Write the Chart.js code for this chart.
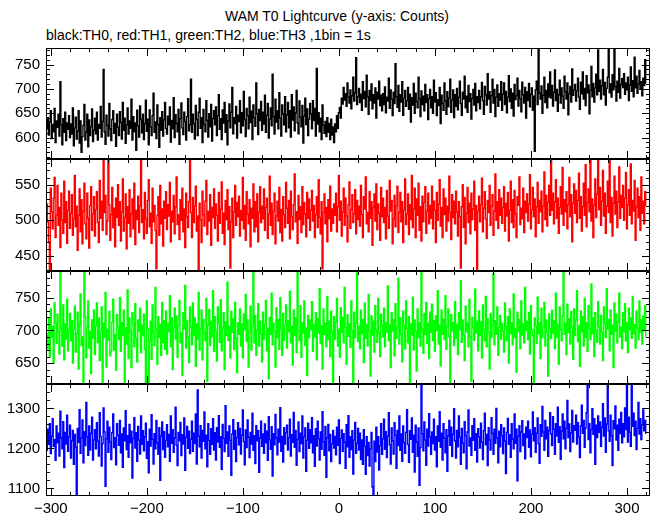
<!DOCTYPE html>
<html>
<head>
<meta charset="utf-8">
<script src="https://cdn.jsdelivr.net/npm/chart.js@4.4.1/dist/chart.umd.min.js"></script>
<style>
  body { margin: 0; background: #fff; width: 652px; height: 515px; position: relative; overflow: hidden;
         font-family: "Liberation Sans", Arial, Helvetica, sans-serif; color: #000; }
  canvas { position: absolute; left: 0; top: 0; }
  #title { position: absolute; left: 0; width: 674px; top: 8px; text-align: center; font-size: 14px; }
  #sub { position: absolute; left: 46px; top: 27px; font-size: 14px; }
</style>
</head>
<body>
<div id="title">WAM T0 Lightcurve (y-axis: Counts)</div>
<div id="sub">black:TH0, red:TH1, green:TH2, blue:TH3 ,1bin = 1s</div>
<canvas id="c0" width="652" height="515"></canvas>
<canvas id="c1" width="652" height="515"></canvas>
<canvas id="c2" width="652" height="515"></canvas>
<canvas id="c3" width="652" height="515"></canvas>
<script>
// time bins: first bin centre and bin width (seconds)
const binStart = -304;
const binWidth = 1;

// x axis tick labels (bottom panel only)
const xTicks = [-300, -200, -100, 0, 100, 200, 300];

// y axis tick labels, one list per panel
const yTicks0 = [600, 650, 700, 750];
const yTicks1 = [450, 500, 550];
const yTicks2 = [650, 700, 750];
const yTicks3 = [1100, 1200, 1300];

// TH0 counts per 1 s bin (black)
const th0 = [
  618,641,605,632,655,598,627,612,660,590,634,621,648,603,715,626,585,639,611,652,594,630,617,645,600,
  628,607,661,583,620,642,597,613,655,589,634,570,602,625,668,595,611,648,581,636,604,622,659,592,615,
  640,608,652,595,627,619,664,601,633,740,612,586,646,625,603,670,618,594,637,655,609,629,582,648,621,
  604,653,631,597,672,615,640,588,626,661,607,634,619,679,595,643,612,630,574,656,624,601,665,637,610,
  648,596,629,677,613,638,585,657,622,604,645,691,611,632,598,667,627,580,641,615,653,603,636,672,619,
  607,644,626,663,591,635,618,682,600,647,629,612,658,586,639,671,620,606,652,633,595,643,680,614,627,
  720,611,648,629,597,666,637,604,652,681,619,641,590,658,627,612,676,635,601,649,622,668,593,639,655,
  626,663,604,645,688,617,639,596,657,630,672,611,647,585,634,669,620,652,703,608,641,629,664,599,646,
  633,676,610,651,624,695,637,602,660,645,618,683,631,654,596,667,641,623,712,649,606,658,635,674,615,
  652,628,687,611,646,670,599,638,661,624,730,643,607,679,632,655,618,692,640,603,667,649,626,684,612,
  647,672,620,655,601,688,636,663,614,651,697,630,608,675,642,622,666,589,644,681,627,659,604,638,670,
  649,618,676,635,660,603,742,628,651,612,640,596,667,625,609,633,602,641,611,629,596,638,605,622,590,
  628,612,645,619,651,662,640,681,669,703,677,690,664,712,683,671,698,659,686,724,675,692,764,668,684,
  701,672,689,656,715,680,695,663,728,684,648,697,676,710,659,688,671,702,640,693,679,716,666,687,655,
  690,668,704,651,683,675,722,660,698,679,645,693,670,752,684,662,707,654,688,673,715,646,681,697,664,
  676,703,658,689,632,682,667,711,650,691,674,661,724,679,643,696,668,685,655,709,672,688,637,680,699,
  661,684,650,718,673,692,645,678,666,703,629,687,670,656,712,675,648,694,663,681,720,652,677,698,641,
  688,664,701,657,683,716,670,646,693,679,726,661,685,652,707,674,690,638,680,699,667,711,655,684,672,
  697,659,684,713,676,648,705,688,667,731,679,694,652,686,720,671,699,643,683,708,664,690,677,715,656,
  689,712,668,695,651,683,727,674,700,660,691,644,709,678,686,722,665,697,680,653,714,688,671,703,640,
  694,676,711,663,689,702,656,685,572,698,716,668,784,691,679,706,650,687,724,672,697,661,710,683,735,
  681,707,665,693,739,676,699,654,688,718,671,702,685,660,726,694,679,712,647,690,705,673,741,687,698,
  709,675,696,722,683,658,714,690,735,679,701,666,727,692,708,649,697,746,684,711,673,702,730,688,780,
  695,718,679,706,740,688,713,667,701,724,784,692,710,683,729,698,784,705,675,716,693,742,681,709,721,
  703,731,689,712,698,724,676,708,745,695,717,684,765,702,726,691,710,738,699,715,686,722,707,760,712
];

// TH1 counts per 1 s bin (red)
const th1 = [
  523,498,470,431,545,512,488,531,560,476,507,549,493,518,462,538,501,482,555,497,526,468,514,541,489,
  510,536,479,502,563,491,520,458,507,544,484,529,467,513,552,495,474,538,503,461,521,547,486,509,533,
  478,515,540,497,469,556,503,527,486,592,511,535,480,499,589,522,472,508,546,490,517,463,531,504,550,
  493,526,471,512,558,485,504,537,460,519,496,543,477,509,530,488,552,466,514,501,534,483,520,590,497,
  515,474,539,502,482,528,557,491,510,468,545,498,521,486,432,507,533,479,549,495,516,464,527,503,540,
  487,522,506,553,470,513,498,535,481,519,561,494,508,473,529,500,545,484,516,462,538,505,490,526,591,
  511,476,532,497,520,548,485,506,430,524,501,469,541,508,492,527,556,480,513,499,536,465,518,504,544,
  489,523,507,471,539,496,516,554,482,510,466,528,501,543,487,519,433,498,531,476,512,549,493,525,505,
  534,478,514,500,560,488,521,472,540,509,495,529,463,517,503,551,484,526,491,537,470,511,547,497,520,
  502,544,486,518,531,475,509,562,493,524,480,513,538,467,506,527,499,546,483,515,471,533,508,490,553,
  517,496,528,474,541,505,487,522,565,498,512,468,535,501,519,483,547,494,525,509,477,539,503,530,486,
  514,542,499,521,476,508,533,490,557,504,481,526,432,511,537,495,518,470,529,502,548,485,516,496,523,
  507,538,484,519,563,500,527,478,512,545,493,531,506,470,522,554,489,515,536,497,509,543,481,528,501,
  520,492,549,508,476,533,516,561,495,511,484,540,503,526,465,518,537,499,551,487,523,510,472,546,505,
  531,497,518,474,542,506,489,556,513,528,467,502,535,491,520,548,483,511,539,498,526,469,515,558,494,
  509,537,480,522,501,563,490,516,545,476,530,507,552,486,519,471,534,498,525,547,482,513,538,495,521,
  503,548,488,527,514,469,539,500,523,557,492,518,476,544,508,531,485,520,499,562,511,473,536,504,527,
  495,541,512,478,526,505,433,519,550,490,532,467,510,546,497,524,481,538,501,516,555,486,521,431,513,
  534,498,522,559,484,517,540,502,475,528,511,549,493,520,536,479,513,565,500,526,489,543,507,531,496,
  518,547,485,524,506,539,471,514,555,497,529,490,542,509,476,533,521,561,494,517,502,545,483,527,511,
  537,499,523,564,488,515,546,505,530,477,519,553,496,528,512,541,484,520,568,501,535,492,525,549,507,
  589,514,538,495,526,557,503,531,482,518,547,509,574,493,529,512,540,488,522,560,505,536,470,524,551,
  510,542,497,528,566,503,533,485,519,552,507,578,491,525,544,512,589,499,530,476,521,558,504,537,588,
  515,546,493,527,570,506,538,482,520,555,511,587,497,532,478,524,562,509,541,490,526,575,503,535,518,
  549,500,531,567,488,522,543,507,579,495,528,513,556,472,519,545,504,533,486,561,510,527,495,540,521
];

// TH2 counts per 1 s bin (green)
const th2 = [
  695,672,718,660,733,689,706,651,742,712,680,725,698,664,793,703,676,739,655,710,687,748,669,701,726,
  684,715,650,702,737,667,695,728,641,709,756,677,690,616,795,721,658,704,745,673,699,634,716,688,731,
  663,707,742,681,719,654,697,736,617,711,690,758,644,702,685,729,661,668,713,748,670,694,639,724,705,
  686,750,668,712,693,731,617,704,679,762,657,719,698,643,727,710,675,741,688,652,716,699,734,666,708,
  692,725,671,617,745,703,618,684,714,656,739,697,677,766,701,648,721,689,709,662,743,682,715,671,730,
  664,711,698,753,675,719,640,704,734,687,722,659,708,746,681,696,631,727,702,769,673,715,690,651,736,
  705,678,742,693,719,645,710,687,758,670,703,731,655,717,696,684,749,622,708,732,677,714,690,761,668,
  721,699,653,736,711,682,747,669,704,727,640,713,692,774,685,706,658,729,697,718,671,743,688,635,712,
  694,733,676,710,658,725,701,755,683,716,644,698,737,670,707,789,681,723,662,700,741,676,714,695,652,
  728,687,709,746,669,703,626,720,694,757,678,711,699,644,735,689,717,671,750,702,662,726,685,708,739,
  673,715,698,760,681,706,647,731,692,719,666,794,700,684,738,659,712,696,745,677,704,631,723,689,716,
  701,744,668,709,690,727,655,718,696,764,680,707,641,733,694,711,675,752,686,714,660,729,698,617,721,
  687,713,749,676,702,659,735,697,720,681,766,705,648,724,691,710,674,745,700,618,728,689,711,793,683,
  706,672,731,695,717,651,742,688,709,676,755,699,630,722,693,714,667,738,701,682,749,696,660,725,708,
  690,734,675,712,697,768,684,708,643,727,699,716,661,741,688,705,780,679,719,694,652,730,707,672,745,
  703,681,721,617,710,693,751,670,716,699,638,733,689,712,676,795,702,665,726,694,743,680,711,657,728,
  697,740,684,715,668,722,700,761,679,708,646,731,694,717,686,753,671,706,733,690,619,724,699,712,677,
  744,688,709,663,727,701,776,682,716,693,654,737,698,711,675,748,690,622,720,704,685,763,696,714,669,
  730,692,713,658,739,701,684,752,675,718,697,641,726,690,708,787,678,715,694,736,662,705,723,687,711,
  699,667,742,706,684,721,650,733,695,712,678,756,689,703,636,728,698,717,672,745,693,710,681,766,700,
  714,686,727,664,738,701,692,618,719,707,680,751,695,712,657,734,689,705,743,676,716,698,630,725,703,
  688,731,696,715,672,757,690,709,648,736,701,684,722,795,694,711,663,740,697,718,679,729,705,656,733,
  692,716,761,683,707,645,730,698,721,676,749,690,712,668,738,703,686,771,695,719,660,727,700,682,744,
  706,679,723,697,654,736,711,689,764,702,717,669,731,694,708,643,742,699,725,681,713,757,690,705,672,
  727,698,741,684,712,666,734,701,719,688,752,695,709,673,730,704,686,745,697,716,679,722,700,738,691
];

// TH3 counts per 1 s bin (blue)
const th3 = [
  1195,1248,1210,1262,1187,1231,1274,1205,1222,1170,1256,1214,1238,1181,1293,1226,1199,1267,1152,1240,1211,1283,1193,1229,1258,
  1176,1219,1245,1160,1235,1203,1083,1250,1215,1297,1188,1226,1271,1164,1242,1207,1315,1229,1183,1256,1196,1238,1278,1171,1221,
  1247,1199,1264,1218,1181,1289,1230,1156,1212,1301,1241,1105,1224,1268,1190,1253,1216,1172,1239,1286,1202,1227,1159,1262,1233,
  1208,1270,1189,1236,1153,1251,1219,1294,1197,1232,1178,1260,1214,1243,1126,1225,1277,1201,1239,1168,1255,1221,1186,1281,1210,
  1244,1194,1229,1263,1175,1217,1139,1248,1206,1284,1223,1161,1237,1199,1270,1214,1185,1252,1120,1231,1266,1197,1242,1178,1220,
  1259,1204,1235,1168,1281,1213,1247,1190,1226,1303,1208,1157,1240,1219,1265,1182,1234,1211,1276,1145,1228,1255,1200,1243,1187,
  1223,1268,1193,1238,1212,1286,1161,1346,1231,1204,1257,1176,1245,1218,1291,1199,1233,1154,1262,1220,1185,1249,1210,1274,1196,
  1239,1171,1252,1216,1282,1203,1229,1148,1260,1225,1192,1307,1213,1241,1180,1256,1220,1133,1236,1272,1198,1245,1167,1227,1264,
  1209,1250,1186,1233,1296,1217,1159,1246,1202,1271,1228,1177,1240,1211,1288,1195,1232,1162,1257,1219,1244,1140,1226,1268,1205,
  1236,1188,1261,1214,1243,1170,1279,1222,1198,1254,1131,1237,1209,1285,1226,1184,1248,1216,1302,1193,1230,1166,1252,1211,1239,
  1258,1196,1227,1273,1181,1234,1215,1290,1203,1245,1158,1223,1266,1192,1238,1212,1281,1176,1229,1251,1143,1220,1263,1200,1247,
  1214,1277,1189,1232,1155,1249,1206,1268,1224,1171,1241,1198,1292,1217,1183,1255,1128,1226,1260,1194,1235,1167,1212,1245,1201,
  1230,1184,1253,1208,1271,1162,1225,1246,1193,1237,1216,1150,1259,1204,1282,1178,1229,1197,1244,1136,1221,1265,1188,1213,1250,
  1196,1238,1172,1221,1160,1247,1205,1135,1229,1182,1215,1156,1199,1240,1104,1083,1218,1167,1253,1191,1229,1146,1207,1262,1185,
  1224,1273,1198,1242,1177,1230,1289,1209,1161,1251,1219,1186,1264,1233,1150,1245,1207,1281,1195,1236,1168,1256,1214,1188,1240,
  1297,1210,1165,1244,1223,1276,1190,1233,1141,1258,1216,1180,1251,1108,1202,1361,1237,1194,1266,1221,1158,1248,1206,1287,1229,
  1185,1241,1212,1273,1196,1229,1154,1256,1218,1292,1203,1238,1171,1262,1225,1189,1247,1143,1231,1270,1208,1253,1180,1236,1299,
  1219,1176,1245,1204,1281,1228,1160,1250,1213,1189,1267,1232,1149,1241,1296,1206,1226,1183,1257,1220,1274,1195,1237,1166,1249,
  1229,1201,1263,1215,1172,1244,1288,1209,1235,1157,1252,1221,1196,1277,1238,1185,1248,1213,1300,1226,1164,1243,1204,1259,1232,
  1187,1251,1218,1137,1240,1275,1210,1234,1178,1262,1223,1199,1286,1213,1248,1119,1230,1257,1192,1241,1269,1207,1236,1174,1253,
  1227,1268,1203,1246,1179,1235,1291,1219,1252,1190,1238,1276,1212,1163,1259,1230,1305,1241,1195,1270,1224,1253,1180,1244,1289,
  1236,1207,1279,1248,1185,1262,1231,1303,1215,1254,1173,1243,1286,1224,1268,1199,1250,1320,1227,1261,1192,1239,1295,1216,1257,
  1245,1283,1211,1264,1229,1177,1256,1308,1238,1270,1203,1251,1289,1361,1222,1262,1189,1247,1299,1235,1274,1160,1258,1227,1281,
  1240,1266,1205,1253,1312,1231,1276,1190,1261,1361,1244,1218,1283,1232,1157,1269,1249,1306,1221,1258,1195,1273,1237,1290,1214,
  1262,1229,1301,1247,1361,1216,1278,1240,1205,1361,1255,1288,1232,1268,1197,1250,1315,1236,1274,1222,1259,1296,1244,1270,1238
];

const FONT = '"Liberation Sans", Arial, Helvetica, sans-serif';

// panel layout: y range, inward tick spacing, vertical placement
const panels = [
  { id: 'c0', values: th0, color: '#000000', min: 556, max: 784, ticks: yTicks0, minor: 10, top: 48, bottom: 159 },
  { id: 'c1', values: th1, color: '#ff0000', min: 429, max: 586, ticks: yTicks1, minor: 10, top: 159, bottom: 271 },
  { id: 'c2', values: th2, color: '#00ff00', min: 618, max: 791, ticks: yTicks2, minor: 10, top: 271, bottom: 384 },
  { id: 'c3', values: th3, color: '#0000ff', min: 1081, max: 1361, ticks: yTicks3, minor: 20, top: 384, bottom: 496 }
];

// box round each panel with inward ticks on all four sides
const framePlugin = {
  id: 'frame',
  afterDatasetsDraw(chart, args, opts) {
    const { ctx, chartArea: a } = chart;
    const xs = chart.scales.x, ys = chart.scales.y;
    ctx.save();
    ctx.strokeStyle = '#000';
    ctx.lineWidth = 1;
    ctx.strokeRect(a.left + 0.5, a.top + 0.5, a.right - a.left - 1, a.bottom - a.top - 1);
    ctx.beginPath();
    for (let v = -300; v <= xs.max; v += 20) {
      const px = Math.round(xs.getPixelForValue(v)) + 0.5;
      const len = xTicks.includes(v) ? 8 : 4;
      ctx.moveTo(px, a.bottom); ctx.lineTo(px, a.bottom - len);
      ctx.moveTo(px, a.top); ctx.lineTo(px, a.top + len);
    }
    const step = opts.minor;
    for (let v = Math.ceil(ys.min / step) * step; v <= ys.max; v += step) {
      const py = Math.round(ys.getPixelForValue(v)) + 0.5;
      const len = opts.major.includes(v) ? 8 : 4;
      ctx.moveTo(a.left, py); ctx.lineTo(a.left + len, py);
      ctx.moveTo(a.right, py); ctx.lineTo(a.right - len, py);
    }
    ctx.stroke();
    ctx.restore();
  }
};

panels.forEach((p, k) => {
  const last = k === panels.length - 1;
  new Chart(document.getElementById(p.id), {
    type: 'line',
    data: {
      datasets: [{
        data: p.values.map((v, i) => ({ x: binStart + i * binWidth, y: v })),
        borderColor: p.color,
        borderWidth: 1.4,
        pointRadius: 0,
        stepped: 'middle',
        fill: false
      }]
    },
    options: {
      responsive: false,
      animation: false,
      events: [],
      layout: { autoPadding: false, padding: { left: 0, right: 2, top: p.top, bottom: 515 - p.bottom - (last ? 19 : 0) } },
      plugins: {
        legend: { display: false },
        tooltip: { enabled: false },
        frame: { minor: p.minor, major: p.ticks }
      },
      scales: {
        x: {
          type: 'linear',
          min: -305,
          max: 324,
          display: last,
          afterBuildTicks: s => { s.ticks = xTicks.map(v => ({ value: v })); },
          afterFit: s => { s.height = last ? 19 : 0; },
          grid: { display: false, drawTicks: false },
          border: { display: false },
          ticks: { color: '#000', padding: 4, maxRotation: 0, font: { family: FONT, size: 15 },
                   callback: v => String(v).replace('-', '\u2212') }
        },
        y: {
          type: 'linear',
          min: p.min,
          max: p.max,
          afterBuildTicks: s => { s.ticks = p.ticks.map(v => ({ value: v })); },
          afterFit: s => { s.width = 46; },
          grid: { display: false, drawTicks: false },
          border: { display: false },
          ticks: { color: '#000', padding: 6, font: { family: FONT, size: 15 }, callback: v => String(v) }
        }
      }
    },
    plugins: [framePlugin]
  });
});
</script>
</body>
</html>
